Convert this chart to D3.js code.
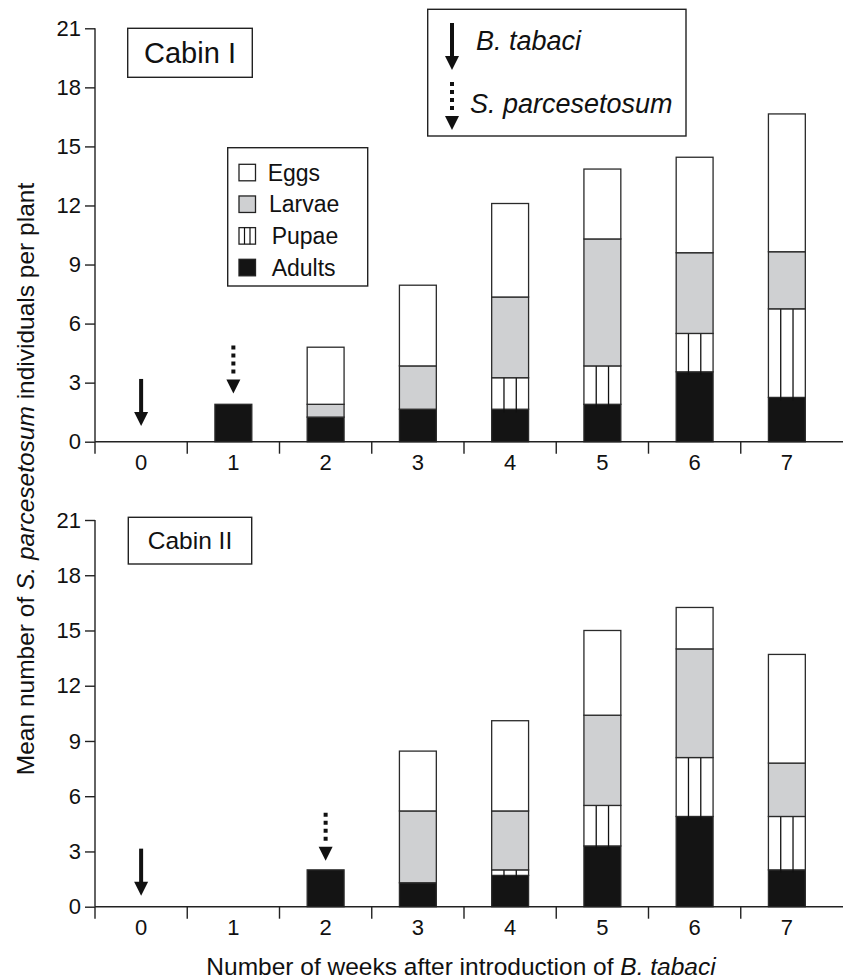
<!DOCTYPE html>
<html>
  <head>
    <meta charset="utf-8">
    <title>S. parcesetosum per plant</title>
    <script src="https://d3js.org/d3.v7.min.js"></script>
    <style>
      body { margin: 0; background: #fff; }
      text { font-family: "Liberation Sans", Arial, Helvetica, sans-serif; fill: #111; }
    </style>
  </head>
  <body>
    <svg></svg>
    <script>
      // weeks after introduction of B. tabaci
      var weeks = [0, 1, 2, 3, 4, 5, 6, 7];
      var yTicks = [0, 3, 6, 9, 12, 15, 18, 21];

      // Cabin I, mean individuals per plant
      var adults1 = [0, 1.9, 1.25, 1.65, 1.65, 1.9, 3.55, 2.25];
      var pupae1  = [0, 0, 0, 0, 1.6, 1.95, 1.95, 4.5];
      var larvae1 = [0, 0, 0.65, 2.2, 4.1, 6.45, 4.1, 2.9];
      var eggs1   = [0, 0, 2.9, 4.1, 4.75, 3.55, 4.85, 7.0];

      // Cabin II
      var adults2 = [0, 0, 2.0, 1.3, 1.7, 3.3, 4.9, 2.0];
      var pupae2  = [0, 0, 0, 0, 0.3, 2.2, 3.2, 2.9];
      var larvae2 = [0, 0, 0, 3.9, 3.2, 4.9, 5.9, 2.9];
      var eggs2   = [0, 0, 0, 3.25, 4.9, 4.6, 2.25, 5.9];

      // release arrows: week and value of the arrow tip
      var releaseWeeks1 = [0, 1], releaseTips1 = [0.8, 2.45];
      var releaseWeeks2 = [0, 2], releaseTips2 = [0.6, 2.5];
      var releaseKinds = ["solid", "dotted"];

      var stages = ["adults", "pupae", "larvae", "eggs"];
      var legendItems = ["eggs", "larvae", "pupae", "adults"];
      var legendNames = ["Eggs", "Larvae", "Pupae", "Adults"];
      var fills = { adults: "#141414", pupae: "#fff", larvae: "#cfd0d2", eggs: "#fff" };

      var svg = d3.select("svg")
        .attr("width", 845)
        .attr("height", 980);

      var x = d3.scaleBand()
        .domain(weeks)
        .range([95, 833])
        .paddingInner(0.6)
        .paddingOuter(0.3);

      function rows(a, p, l, e) {
        return weeks.map(function(w, i) {
          return { week: w, adults: a[i], pupae: p[i], larvae: l[i], eggs: e[i] };
        });
      }

      var panels = [
        { name: "Cabin I", y0: 441.7, y1: 28.3, data: rows(adults1, pupae1, larvae1, eggs1),
          rw: releaseWeeks1, rt: releaseTips1, box: [127.7, 28.3, 124.6, 49], fs: 29 },
        { name: "Cabin II", y0: 906.7, y1: 520, data: rows(adults2, pupae2, larvae2, eggs2),
          rw: releaseWeeks2, rt: releaseTips2, box: [128.3, 517.3, 123.4, 46.7], fs: 24.5 }
      ];

      function arrow(g, cx, tipY, kind) {
        // stem then head, head is 14 px tall
        if (kind == "solid") {
          g.append("rect")
            .attr("x", cx - 2).attr("y", tipY - 47)
            .attr("width", 4).attr("height", 34)
            .attr("fill", "#111");
        } else {
          g.append("line")
            .attr("x1", cx).attr("x2", cx)
            .attr("y1", tipY - 48).attr("y2", tipY - 16)
            .attr("stroke", "#111").attr("stroke-width", 4)
            .attr("stroke-dasharray", "4,4");
        }
        g.append("path")
          .attr("d", "M" + (cx - 7) + "," + (tipY - 14) + "L" + (cx + 7) + "," + (tipY - 14) + "L" + cx + "," + tipY + "Z")
          .attr("fill", "#111");
      }

      panels.forEach(function(p) {
        var y = d3.scaleLinear().domain([0, 21]).range([p.y0, p.y1]);
        var g = svg.append("g");

        var series = d3.stack().keys(stages)(p.data);

        series.forEach(function(s) {
          var key = s.key;
          var segs = g.append("g").selectAll("g")
            .data(s.filter(function(d) { return d[1] - d[0] > 0; }))
            .enter().append("g");

          segs.append("rect")
            .attr("x", function(d) { return x(d.data.week); })
            .attr("y", function(d) { return y(d[1]); })
            .attr("width", x.bandwidth())
            .attr("height", function(d) { return y(d[0]) - y(d[1]); })
            .attr("fill", fills[key])
            .attr("stroke", "#2a2a2a")
            .attr("stroke-width", 1.3);

          if (key == "pupae") {
            [1 / 3, 2 / 3].forEach(function(f) {
              segs.append("line")
                .attr("x1", function(d) { return x(d.data.week) + x.bandwidth() * f; })
                .attr("x2", function(d) { return x(d.data.week) + x.bandwidth() * f; })
                .attr("y1", function(d) { return y(d[1]); })
                .attr("y2", function(d) { return y(d[0]) + 3; })
                .attr("stroke", "#111")
                .attr("stroke-width", 1.3);
            });
          }
        });

        // y axis
        var yAxis = g.append("g")
          .attr("transform", "translate(95,0)")
          .call(d3.axisLeft(y).tickValues(yTicks).tickSize(10).tickPadding(4));
        yAxis.select(".domain").attr("d", "M0," + y(21) + "V" + y(0));
        yAxis.selectAll("line, path").attr("stroke", "#222").attr("stroke-width", 1.4);
        yAxis.selectAll("text").attr("font-size", 22).attr("fill", "#111")
          .style("font-family", "'Liberation Sans', Arial, sans-serif");

        // x axis: labels at band centres, ticks at band edges
        var xAxis = g.append("g")
          .attr("transform", "translate(0," + y(0) + ")")
          .call(d3.axisBottom(x).tickSize(0).tickPadding(13));
        xAxis.select(".domain").attr("d", "M95,0H843").attr("stroke", "#222").attr("stroke-width", 1.4);
        xAxis.selectAll("text").attr("font-size", 22).attr("fill", "#111")
          .style("font-family", "'Liberation Sans', Arial, sans-serif");
        xAxis.selectAll(".edge")
          .data(weeks)
          .enter().append("line")
          .attr("class", "edge")
          .attr("x1", function(d) { return x(d) + x.bandwidth() / 2 - x.step() / 2; })
          .attr("x2", function(d) { return x(d) + x.bandwidth() / 2 - x.step() / 2; })
          .attr("y1", 0).attr("y2", 12)
          .attr("stroke", "#222").attr("stroke-width", 1.4);

        // release arrows
        p.rw.forEach(function(w, i) {
          arrow(g, x(w) + x.bandwidth() / 2, y(p.rt[i]), releaseKinds[i]);
        });

        // cabin label
        g.append("rect")
          .attr("x", p.box[0]).attr("y", p.box[1])
          .attr("width", p.box[2]).attr("height", p.box[3])
          .attr("fill", "#fff").attr("stroke", "#222").attr("stroke-width", 1.4);
        g.append("text")
          .attr("x", p.box[0] + p.box[2] / 2)
          .attr("y", p.box[1] + p.box[3] / 2)
          .attr("dy", "0.36em")
          .attr("text-anchor", "middle")
          .attr("font-size", p.fs)
          .text(p.name);
      });

      // stage legend (top panel)
      var leg = svg.append("g");
      leg.append("rect")
        .attr("x", 227.7).attr("y", 147.7).attr("width", 140).attr("height", 138.3)
        .attr("fill", "#fff").attr("stroke", "#222").attr("stroke-width", 1.4);
      var legendY = d3.scalePoint().domain(legendItems).range([164.3, 259.3]);
      var legendX = [267.7, 269, 271.7, 271.7];
      legendItems.forEach(function(k, i) {
        var ly = legendY(k);
        leg.append("rect")
          .attr("x", 239).attr("y", ly).attr("width", 16.5).attr("height", 16.5)
          .attr("fill", fills[k]).attr("stroke", "#222").attr("stroke-width", 1.3);
        if (k == "pupae") {
          [1 / 3, 2 / 3].forEach(function(f) {
            leg.append("line")
              .attr("x1", 239 + 16.5 * f).attr("x2", 239 + 16.5 * f)
              .attr("y1", ly).attr("y2", ly + 16.5)
              .attr("stroke", "#111").attr("stroke-width", 1.2);
          });
        }
        leg.append("text")
          .attr("x", legendX[i])
          .attr("y", ly + 16.5)
          .attr("font-size", 23)
          .text(legendNames[i]);
      });

      // arrow legend
      var aleg = svg.append("g");
      aleg.append("rect")
        .attr("x", 427.7).attr("y", 9.3).attr("width", 258.3).attr("height", 126.7)
        .attr("fill", "#fff").attr("stroke", "#222").attr("stroke-width", 1.4);
      arrow(aleg, 452, 70, "solid");
      arrow(aleg, 452, 130, "dotted");
      aleg.append("text")
        .attr("x", 476).attr("y", 50).attr("font-size", 27)
        .attr("font-style", "italic").text("B. tabaci");
      aleg.append("text")
        .attr("x", 470).attr("y", 113).attr("font-size", 27)
        .attr("font-style", "italic").text("S. parcesetosum");

      // axis titles
      var yt = svg.append("text")
        .attr("transform", "translate(33.5,479) rotate(-90)")
        .attr("text-anchor", "middle")
        .attr("font-size", 24.5);
      yt.append("tspan").text("Mean number of ");
      yt.append("tspan").attr("font-style", "italic").text("S. parcesetosum");
      yt.append("tspan").text(" individuals per plant");

      var xt = svg.append("text")
        .attr("x", 461).attr("y", 975)
        .attr("text-anchor", "middle")
        .attr("font-size", 24.5);
      xt.append("tspan").text("Number of weeks after introduction of ");
      xt.append("tspan").attr("font-style", "italic").text("B. tabaci");
    </script>
  </body>
</html>
